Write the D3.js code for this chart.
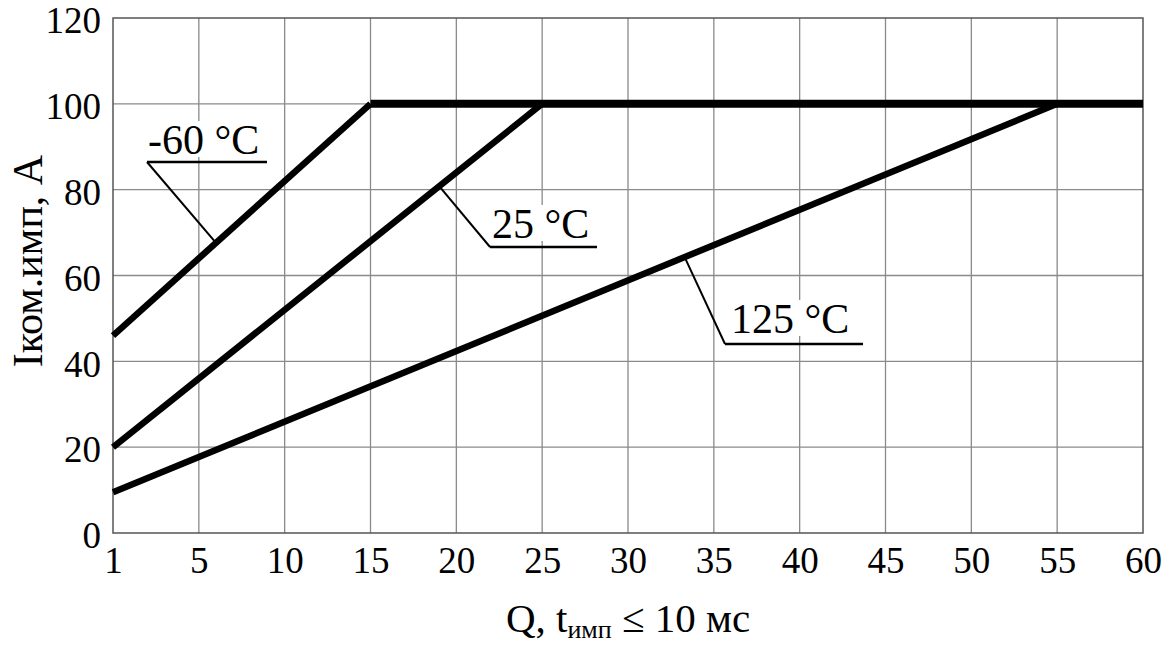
<!DOCTYPE html>
<html>
<head>
<meta charset="utf-8">
<script src="https://cdn.jsdelivr.net/npm/d3@7"></script>
<style>
  html, body { margin: 0; padding: 0; background: #fff; }
  svg { display: block; }
  text { font-family: "Liberation Serif", "DejaVu Serif", serif; fill: #000; }
</style>
</head>
<body>
<svg id="chart" width="1172" height="651"></svg>
<script>
// Pulse current limit vs. Q for three junction temperatures
const xTicks = [1, 5, 10, 15, 20, 25, 30, 35, 40, 45, 50, 55, 60];
const yTicks = [0, 20, 40, 60, 80, 100, 120];

const seriesNames = ["-60 °C", "25 °C", "125 °C"];
// each curve: rising segment from Q = 1, then flat at the 100 A limit up to Q = 60
const seriesQ = [
  [1, 15, 60],
  [1, 25, 60],
  [1, 55, 60]
];
const seriesI = [
  [46, 100, 100],
  [20, 100, 100],
  [9.5, 100, 100]
];
// Q at which each callout leader touches its curve
const calloutQ = [6, 19, 33.3];

const svg = d3.select("#chart");
const plotL = 113, plotR = 1143, plotT = 18, plotB = 533;
const plotW = plotR - plotL;

// grid columns are evenly spaced, the first cell spans 1..5
const x = d3.scaleLinear()
  .domain([1, 5, 60])
  .range([plotL, plotL + plotW / 12, plotR]);
const y = d3.scaleLinear().domain([0, 120]).range([plotB, plotT]);

// grid
const grid = svg.append("g");
grid.selectAll("line.v")
  .data(xTicks.slice(1, -1))
  .join("line")
  .attr("class", "v")
  .attr("x1", d => x(d)).attr("x2", d => x(d))
  .attr("y1", plotT).attr("y2", plotB)
  .attr("stroke", "#8a8a8a").attr("stroke-width", 1.3);
grid.selectAll("line.h")
  .data(yTicks.slice(1, -1))
  .join("line")
  .attr("class", "h")
  .attr("x1", plotL).attr("x2", plotR)
  .attr("y1", d => y(d)).attr("y2", d => y(d))
  .attr("stroke", "#8a8a8a").attr("stroke-width", 1.3);

// frame
svg.append("rect")
  .attr("x", plotL).attr("y", plotT)
  .attr("width", plotW).attr("height", plotB - plotT)
  .attr("fill", "none").attr("stroke", "#555").attr("stroke-width", 1.5);

// axes (labels only, the frame stands in for domain lines)
const xAxis = d3.axisBottom(x).tickValues(xTicks).tickSize(0).tickPadding(0).tickFormat(d3.format("d"));
const gx = svg.append("g").attr("transform", `translate(0,${plotB})`).call(xAxis);
gx.select(".domain").remove();
gx.selectAll("text")
  .attr("y", 40).attr("dy", 0)
  .style("font-size", "37px")
  .attr("font-family", "Liberation Serif");

const yAxis = d3.axisLeft(y).tickValues(yTicks).tickSize(0).tickPadding(12);
const gy = svg.append("g").attr("transform", `translate(${plotL},0)`).call(yAxis);
gy.select(".domain").remove();
gy.selectAll("text")
  .attr("dy", "0.4em")
  .style("font-size", "37px")
  .attr("font-family", "Liberation Serif");

// curves
const pts = seriesQ.map((qs, i) => qs.map((q, j) => [x(q), y(seriesI[i][j])]));
const lineGen = d3.line();
const curves = svg.append("g").attr("fill", "none").attr("stroke", "#000").attr("stroke-linejoin", "round");
pts.forEach(p => {
  curves.append("path").attr("d", lineGen(p.slice(0, 2))).attr("stroke-width", 6.5);
});
curves.append("path")
  .attr("d", lineGen([[x(seriesQ[0][1]), y(100)], [x(60), y(100)]]))
  .attr("stroke-width", 8).attr("stroke-linecap", "butt");

// callouts: underlined label joined to its curve by a thin leader
const callouts = [
  { tx: 148, ty: 154, ux1: 147, ux2: 267, uy: 162 },
  { tx: 492, ty: 238, ux1: 490, ux2: 597, uy: 247 },
  { tx: 731, ty: 333, ux1: 725, ux2: 863, uy: 344 }
];
const ann = svg.append("g");
callouts.forEach((c, i) => {
  const p = pts[i];
  const px = x(calloutQ[i]);
  const t = (px - p[0][0]) / (p[1][0] - p[0][0]);
  const py = p[0][1] + t * (p[1][1] - p[0][1]);
  const txt = ann.append("text")
    .attr("x", c.tx).attr("y", c.ty)
    .style("font-size", "42px")
    .text(seriesNames[i]);
  const bb = txt.node().getBBox();
  ann.insert("rect", "text")
    .attr("x", bb.x - 2).attr("y", bb.y + 4)
    .attr("width", bb.width + 4).attr("height", bb.height - 10)
    .attr("fill", "#fff");
  ann.append("line")
    .attr("x1", c.ux1).attr("x2", c.ux2).attr("y1", c.uy).attr("y2", c.uy)
    .attr("stroke", "#000").attr("stroke-width", 2.5);
  ann.append("line")
    .attr("x1", c.ux1).attr("y1", c.uy).attr("x2", px).attr("y2", py)
    .attr("stroke", "#000").attr("stroke-width", 2);
});

// axis titles
const xt = svg.append("text")
  .attr("x", 628).attr("y", 632)
  .attr("text-anchor", "middle")
  .style("font-size", "41px");
xt.append("tspan").text("Q, t");
xt.append("tspan").attr("dy", 6).style("font-size", "26px").text("имп");
xt.append("tspan").attr("dy", -6).text(" ≤ 10 мс");

svg.append("text")
  .attr("transform", `translate(42,${261}) rotate(-90)`)
  .attr("text-anchor", "middle")
  .style("font-size", "42px")
  .text("Iком.имп, А");
</script>
</body>
</html>
